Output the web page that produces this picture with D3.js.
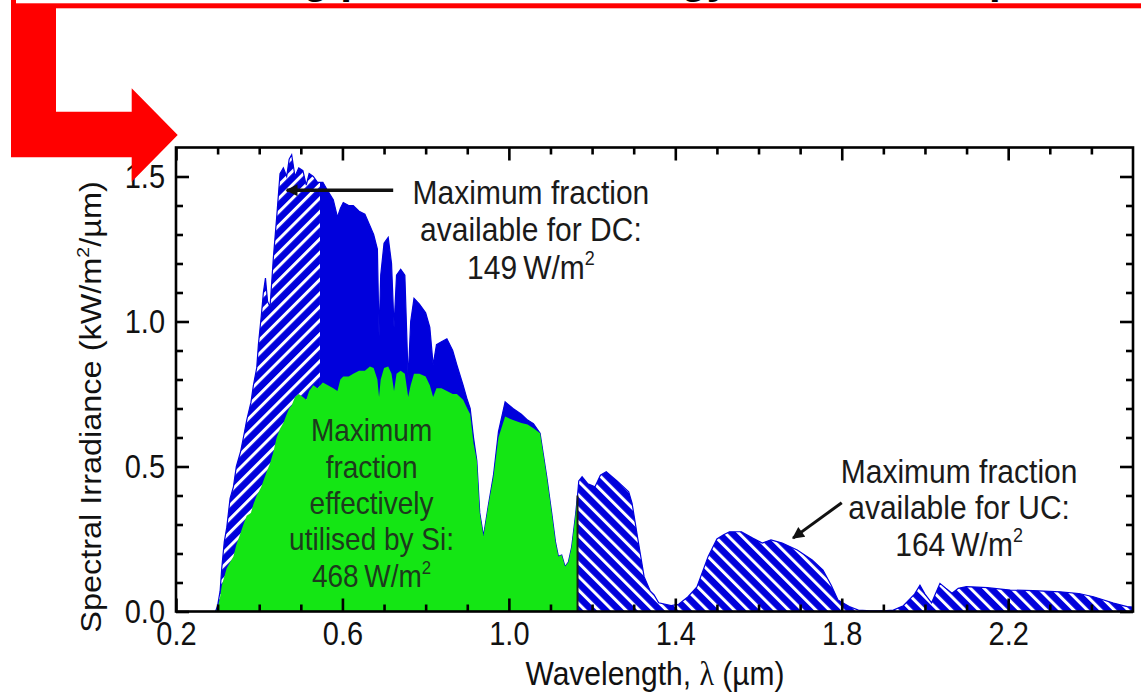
<!DOCTYPE html>
<html>
<head>
<meta charset="utf-8">
<script src="https://cdn.jsdelivr.net/npm/d3@7"></script>
<style>
  html, body { margin: 0; padding: 0; background: #fff; }
  svg { display: block; }
</style>
</head>
<body>
<svg id="chart" width="1141" height="693"></svg>
<script>
// ---- Spectrum data (wavelength in µm, irradiance in kW/m²/µm) ----
// Visible / near-IR part: total AM1.5 spectrum and the share usable by Si
const lambdaVis = [0.295,0.300,0.306,0.310,0.316,0.322,0.330,0.338,0.345,0.355,0.362,0.370,0.380,0.386,0.394,0.398,0.405,0.410,0.415,0.420,0.426,0.434,0.442,0.450,0.458,0.466,0.472,0.478,0.486,0.495,0.505,0.513,0.520,0.530,0.540,0.553,0.565,0.578,0.588,0.595,0.602,0.615,0.626,0.640,0.654,0.666,0.675,0.684,0.688,0.692,0.700,0.710,0.718,0.724,0.730,0.740,0.750,0.758,0.764,0.772,0.785,0.800,0.810,0.818,0.826,0.838,0.851,0.865,0.875,0.890,0.900,0.907,0.915,0.923,0.930,0.939,0.950,0.963,0.975,0.991,1.010,1.030,1.045,1.059,1.075,1.091,1.103,1.112,1.119,1.127,1.135,1.143,1.151,1.160,1.165];
const totalVis = [0.00,0.02,0.07,0.15,0.24,0.29,0.39,0.43,0.50,0.55,0.60,0.66,0.72,0.78,0.84,0.92,1.02,1.10,1.15,1.07,1.05,1.22,1.36,1.51,1.53,1.50,1.56,1.575,1.50,1.53,1.52,1.47,1.51,1.50,1.48,1.48,1.45,1.42,1.36,1.39,1.41,1.40,1.40,1.38,1.37,1.33,1.30,1.25,0.95,1.16,1.27,1.29,1.20,0.98,1.16,1.18,1.16,0.80,1.00,1.08,1.06,1.03,0.98,0.85,0.92,0.93,0.94,0.90,0.85,0.78,0.73,0.70,0.60,0.52,0.34,0.26,0.36,0.47,0.62,0.723,0.70,0.68,0.66,0.648,0.615,0.465,0.339,0.24,0.19,0.195,0.155,0.17,0.223,0.33,0.40];
const siVis = [0.00,0.01,0.05,0.09,0.12,0.15,0.17,0.19,0.23,0.27,0.30,0.33,0.34,0.37,0.40,0.41,0.43,0.45,0.47,0.49,0.51,0.55,0.60,0.63,0.65,0.68,0.70,0.71,0.74,0.75,0.74,0.73,0.76,0.78,0.77,0.79,0.78,0.77,0.76,0.80,0.81,0.81,0.82,0.83,0.83,0.845,0.84,0.80,0.74,0.80,0.84,0.845,0.82,0.76,0.82,0.83,0.82,0.74,0.78,0.82,0.82,0.81,0.78,0.74,0.77,0.77,0.76,0.75,0.75,0.73,0.70,0.68,0.58,0.52,0.34,0.26,0.36,0.465,0.60,0.672,0.66,0.65,0.645,0.632,0.615,0.465,0.339,0.24,0.19,0.195,0.155,0.17,0.223,0.33,0.40];

// Infrared part beyond the Si band edge
const lambdaIR = [1.165,1.168,1.176,1.190,1.207,1.220,1.234,1.260,1.288,1.296,1.310,1.325,1.340,1.349,1.360,1.390,1.408,1.430,1.452,1.479,1.500,1.515,1.530,1.559,1.586,1.609,1.630,1.657,1.693,1.729,1.755,1.775,1.791,1.818,1.840,1.870,1.900,1.924,1.948,1.975,1.988,2.000,2.016,2.036,2.050,2.065,2.080,2.100,2.150,2.205,2.260,2.325,2.370,2.405,2.453,2.486,2.500];
const totalIR = [0.40,0.45,0.465,0.44,0.43,0.47,0.482,0.45,0.413,0.374,0.25,0.12,0.07,0.057,0.03,0.02,0.025,0.05,0.085,0.19,0.25,0.264,0.275,0.275,0.253,0.236,0.247,0.236,0.212,0.178,0.143,0.09,0.04,0.017,0.005,0.002,0.002,0.005,0.02,0.06,0.091,0.06,0.03,0.097,0.08,0.063,0.08,0.086,0.082,0.074,0.072,0.068,0.062,0.051,0.029,0.017,0.015];

// Spectral limits of the down-conversion and up-conversion ranges (µm)
const dcEdge = 0.546;
const ucEdge = 1.165;

// Axes
const xDomain = [0.2, 2.5];
const yDomain = [0, 1.6];
const xMajorTicks = [0.2, 0.6, 1.0, 1.4, 1.8, 2.2];
const yMajorTicks = [0.0, 0.5, 1.0, 1.5];
const xMinorTicks = [0.3,0.4,0.5,0.7,0.8,0.9,1.1,1.2,1.3,1.5,1.6,1.7,1.9,2.0,2.1,2.3,2.4];
const yMinorTicks = [0.1,0.2,0.3,0.4,0.6,0.7,0.8,0.9,1.1,1.2,1.3,1.4];

// Annotation texts
const dcLines = ["Maximum fraction", "available for DC:", "149\u2009W/m"];
const siLines = ["Maximum", "fraction", "effectively", "utilised by Si:", "468\u2009W/m"];
const ucLines = ["Maximum fraction", "available for UC:", "164\u2009W/m"];
const headline = "Enhancing photon use: energy down- and up-conversion";

// ---- Styling ----
const FONT = '"Liberation Sans", Arial, Helvetica, sans-serif';
const SY = 1.12;              // tall, slightly condensed lettering
const BLUE = "#0000dc";
const GREEN = "#14e614";

const svg = d3.select("#chart");
const defs = svg.append("defs");

const x = d3.scaleLinear().domain(xDomain).range([176, 1133]);
const y = d3.scaleLinear().domain(yDomain).range([611.5, 147.5]);

// hatch patterns: blue ground with white diagonal stripes
function hatch(id, angle) {
  const p = defs.append("pattern")
    .attr("id", id)
    .attr("patternUnits", "userSpaceOnUse")
    .attr("width", 9.6).attr("height", 9.6)
    .attr("patternTransform", `rotate(${angle})`);
  p.append("rect").attr("width", 9.6).attr("height", 9.6).attr("fill", BLUE);
  p.append("line").attr("x1", 1.5).attr("y1", -1).attr("x2", 1.5).attr("y2", 11)
    .attr("stroke", "#ffffff").attr("stroke-width", 3);
}
hatch("hatchDC", 45);
hatch("hatchUC", -45);

function clipRange(id, a, b) {
  defs.append("clipPath").attr("id", id).append("rect")
    .attr("x", x(a)).attr("y", y(yDomain[1]))
    .attr("width", x(b) - x(a)).attr("height", y(0) - y(yDomain[1]) + 2);
}
clipRange("clipDC", xDomain[0], dcEdge);
clipRange("clipMid", dcEdge, ucEdge);
clipRange("clipUC", ucEdge, xDomain[1]);

const totalData = lambdaVis.map((l, i) => [l, totalVis[i]])
  .concat(lambdaIR.slice(1).map((l, i) => [l, totalIR[i + 1]]));
const siData = lambdaVis.map((l, i) => [l, siVis[i]]);

const area = d3.area()
  .x(d => x(d[0]))
  .y0(y(0))
  .y1(d => y(d[1]));

const plot = svg.append("g");
plot.append("path").datum(totalData).attr("d", area)
  .attr("fill", BLUE).attr("clip-path", "url(#clipMid)");
plot.append("path").datum(totalData).attr("d", area)
  .attr("fill", "url(#hatchDC)").attr("clip-path", "url(#clipDC)");
plot.append("path").datum(totalData).attr("d", area)
  .attr("fill", "url(#hatchUC)").attr("clip-path", "url(#clipUC)");
plot.append("path").datum(totalData).attr("d", area)
  .attr("fill", "none").attr("stroke", BLUE).attr("stroke-width", 1.2);
plot.append("path").datum(siData).attr("d", area)
  .attr("fill", GREEN);

// Si band-edge divider
plot.append("line")
  .attr("x1", x(ucEdge)).attr("x2", x(ucEdge))
  .attr("y1", y(0)).attr("y2", y(siVis[siVis.length - 1]))
  .attr("stroke", "#1a1a1a").attr("stroke-width", 2);

// ---- Ticks (inward, mirrored on all sides) ----
function tickGroup(axis, tx, ty) {
  const g = svg.append("g").attr("transform", `translate(${tx},${ty})`).call(axis);
  g.select(".domain").remove();
  g.selectAll(".tick line").attr("stroke", "#000").attr("stroke-width", 2.6);
  g.attr("font-family", FONT).attr("font-size", 29);
  return g;
}
const x0 = x(xDomain[0]), x1 = x(xDomain[1]), y0 = y(0), y1 = y(yDomain[1]);

const bottom = tickGroup(d3.axisBottom(x).tickValues(xMajorTicks).tickSize(-13)
  .tickFormat(d3.format(".1f")), 0, y0);
bottom.selectAll(".tick text")
  .attr("fill", "#111").attr("dy", null)
  .attr("y", 33.5 / SY).attr("transform", `scale(1,${SY})`);
tickGroup(d3.axisBottom(x).tickValues(xMinorTicks).tickSize(-7).tickFormat(""), 0, y0);
tickGroup(d3.axisTop(x).tickValues(xMajorTicks).tickSize(-13).tickFormat(""), 0, y1);
tickGroup(d3.axisTop(x).tickValues(xMinorTicks).tickSize(-7).tickFormat(""), 0, y1);

const left = tickGroup(d3.axisLeft(y).tickValues(yMajorTicks).tickSize(-13).tickPadding(11)
  .tickFormat(d3.format(".1f")), x0, 0);
left.selectAll(".tick text")
  .attr("fill", "#111").attr("dy", null)
  .attr("y", 11.4 / SY).attr("transform", `scale(1,${SY})`);
tickGroup(d3.axisLeft(y).tickValues(yMinorTicks).tickSize(-7).tickFormat(""), x0, 0);
tickGroup(d3.axisRight(y).tickValues(yMajorTicks).tickSize(-13).tickFormat(""), x1, 0);
tickGroup(d3.axisRight(y).tickValues(yMinorTicks).tickSize(-7).tickFormat(""), x1, 0);

// frame
svg.append("rect")
  .attr("x", x0).attr("y", y1).attr("width", x1 - x0).attr("height", y0 - y1)
  .attr("fill", "none").attr("stroke", "#000").attr("stroke-width", 2.6);

// ---- Text helpers ----
function addText(parent, px, py, size, color, anchor, rotate) {
  const tr = rotate
    ? `translate(${px},${py}) rotate(-90) scale(${SY},1)`
    : `translate(${px},${py}) scale(1,${SY})`;
  return parent.append("text")
    .attr("transform", tr)
    .attr("font-family", FONT).attr("font-size", size)
    .attr("fill", color).attr("text-anchor", anchor);
}
function withSquare(t, base, size) {
  t.append("tspan").text(base);
  t.append("tspan").attr("font-size", size * 0.6).attr("dy", -size * 0.42).text("2");
}

// axis titles
const xt = addText(svg, 655, 685, 30, "#111", "middle");
xt.append("tspan").text("Wavelength, ");
xt.append("tspan").attr("font-family", '"Liberation Serif", "DejaVu Serif", serif').text("\u03bb");
xt.append("tspan").text(" (\u00b5m)");

const yt = addText(svg, 101, 407, 29, "#111", "middle", true);
yt.append("tspan").text("Spectral Irradiance (kW/m");
yt.append("tspan").attr("font-size", 29 * 0.6).attr("dy", -29 * 0.42).text("2");
yt.append("tspan").attr("dy", 29 * 0.42).text("/\u00b5m)");

// ---- Annotations ----
const notes = svg.append("g");

// DC note
const dcX = x(1.053);
[204, 241, 279].forEach((py, i) => {
  const t = addText(notes, dcX, py, 30, "#1a1a1a", "middle");
  if (i === 2) withSquare(t, dcLines[i], 30); else t.text(dcLines[i]);
});

// Si note
const siX = x(0.67);
[441, 478, 514, 550, 587].forEach((py, i) => {
  const t = addText(notes, siX, py, 28, "#1d3a1d", "middle");
  if (i === 4) withSquare(t, siLines[i], 28); else t.text(siLines[i]);
});

// UC note
const ucX = x(2.082);
[483, 519, 556].forEach((py, i) => {
  const t = addText(notes, ucX, py, 30, "#1a1a1a", "middle");
  if (i === 2) withSquare(t, ucLines[i], 30); else t.text(ucLines[i]);
});

// arrows
defs.append("marker").attr("id", "head")
  .attr("viewBox", "0 0 10 10").attr("refX", 9).attr("refY", 5)
  .attr("markerUnits", "userSpaceOnUse")
  .attr("markerWidth", 22).attr("markerHeight", 12)
  .attr("orient", "auto")
  .append("path").attr("d", "M0,0 L10,5 L0,10 Z").attr("fill", "#111");

notes.append("line")
  .attr("x1", x(0.722)).attr("y1", y(1.453))
  .attr("x2", x(0.466)).attr("y2", y(1.453))
  .attr("stroke", "#111").attr("stroke-width", 3.5).attr("marker-end", "url(#head)");

notes.append("line")
  .attr("x1", x(1.80)).attr("y1", y(0.375))
  .attr("x2", x(1.683)).attr("y2", y(0.253))
  .attr("stroke", "#111").attr("stroke-width", 3).attr("marker-end", "url(#head)");

// ---- Slide decoration: headline box and red pointer ----
svg.append("text")
  .attr("x", 114).attr("y", -7)
  .attr("font-family", FONT).attr("font-weight", "bold").attr("font-size", 42)
  .attr("fill", "#000").text(headline);
svg.append("rect")
  .attr("x", 13.5).attr("y", -100).attr("width", 1200).attr("height", 105.8)
  .attr("fill", "none").attr("stroke", "#ff0000").attr("stroke-width", 5);

svg.append("path")
  .attr("d", "M11,6 L56,6 L56,111.7 L131.7,111.7 L131.7,88.3 L177.7,135 L131.7,181.7 L131.7,157.3 L11,157.3 Z")
  .attr("fill", "#ff0000");
</script>
</body>
</html>
